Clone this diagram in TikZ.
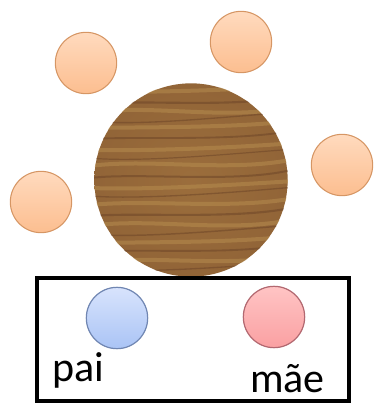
\documentclass[tikz,border=0pt]{standalone}
\usepackage{fontspec}
\setmainfont{Carlito}
\usetikzlibrary{shadings}

\definecolor{peach}{RGB}{255,206,168}
\definecolor{peachdk}{RGB}{252,190,144}
\definecolor{peachln}{RGB}{214,150,100}
\definecolor{paiblue}{RGB}{206,220,252}
\definecolor{paibluedk}{RGB}{170,196,245}
\definecolor{paiblueln}{RGB}{112,134,178}
\definecolor{maepink}{RGB}{255,186,186}
\definecolor{maepinkdk}{RGB}{250,160,162}
\definecolor{maepinkln}{RGB}{178,104,112}
\definecolor{wood}{RGB}{152,106,58}
\definecolor{wooddk}{RGB}{110,70,40}
\definecolor{woodlt}{RGB}{182,140,78}

\begin{document}
\begin{tikzpicture}[x=0.75pt, y=-0.75pt,
    seat/.style={circle, draw=peachln, line width=0.8pt, top color=peach!75!white, bottom color=peachdk, minimum size=46pt, inner sep=0pt},
    pai/.style={circle, draw=paiblueln, line width=0.9pt, top color=paiblue!80!white, bottom color=paibluedk, minimum size=46pt, inner sep=0pt},
    mae/.style={circle, draw=maepinkln, line width=0.9pt, top color=maepink!85!white, bottom color=maepinkdk, minimum size=46pt, inner sep=0pt},
    tabletop/.style={circle, inner color=wood!90!woodlt, outer color=wood!85!wooddk, minimum size=145pt, inner sep=0pt},
    darkgrain/.style={draw=wooddk, line width=1.3pt, opacity=0.55},
    litegrain/.style={draw=woodlt, line width=3pt, opacity=0.55},
    lbl/.style={font=\fontsize{31.5}{31.5}\selectfont, inner sep=0pt}
]
\useasboundingbox (0,0) rectangle (377,403);

% chairs around the table
\node[seat] (s1) at (86,63) {};
\node[seat] (s2) at (241,42) {};
\node[seat] (s3) at (342,165) {};
\node[seat] (s4) at (41,202) {};

% wooden table
\node[tabletop] (mesa) at (191,180) {};
\begin{scope}
\clip (mesa.center) circle (97);
\foreach \y/\d in {92/4, 113/-6, 128/3, 150/5, 166/-4, 188/6, 205/-2, 226/-5, 243/3, 262/-3}
  \draw[litegrain] (90,\y) .. controls (150,\y-4+\d) and (230,\y+3-\d) .. (295,\y-7);
\foreach \y/\d/\w in {104/-5/1.6, 121/6/1.0, 139/-3/1.4, 158/5/0.9, 178/-6/1.5, 196/4/1.0, 216/-4/1.6, 234/5/1.1, 252/-4/1.4, 270/3/1.0}
  \draw[darkgrain, line width=\w pt] (90,\y) .. controls (140,\y+\d) and (240,\y-\d) .. (295,\y-9);
\end{scope}

% the couple
\draw[line width=2.4pt] (37,278) rectangle (349,401);
\node[pai] (p) at (117,318) {};
\node[mae] (m) at (274,317) {};
\node[lbl, anchor=base west] (plbl) at (52,381) {pai};
\node[lbl, anchor=base west] (mlbl) at (250,392) {mãe};
\end{tikzpicture}
\end{document}
